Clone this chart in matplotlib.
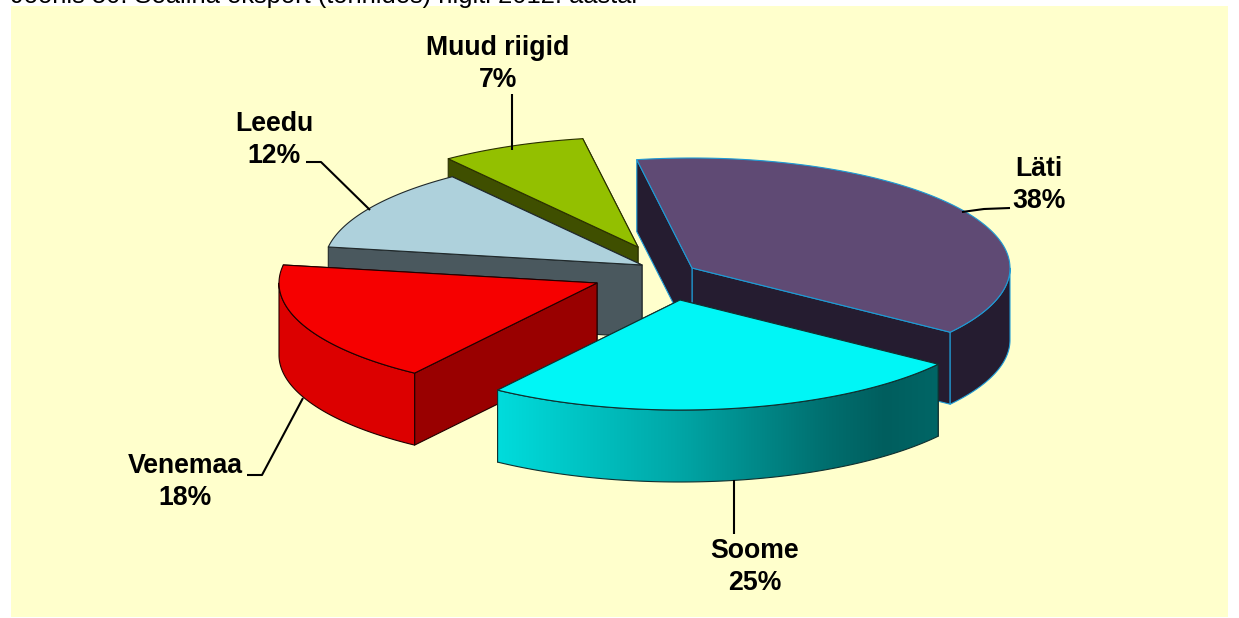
import numpy as np
import matplotlib
matplotlib.use("Agg")
import matplotlib.pyplot as plt
from matplotlib.patches import Polygon, Rectangle
from matplotlib.colors import LinearSegmentedColormap

# --- data ---
categories = ["Läti", "Soome", "Venemaa", "Leedu", "Muud riigid"]
shares = [37.7, 24.8, 17.9, 12.2, 7.4]
title_text = "Joonis 50. Sealiha eksport (tonnides) riigiti 2012. aastal"

# --- styling / layout ---
plt.rcParams["font.family"] = ["Liberation Sans", "DejaVu Sans"]
top_cols = ["#5F4A74", "#00F6F6", "#F60000", "#AED1DC", "#93C000"]
side_cols = ["#251C30", "#007070", "#990000", "#4A585E", "#3F4F00"]
arc_cols = ["#251C30", None, "#DC0000", "#4A585E", "#3F4F00"]
edge_cols = ["#1E9BD5", "#10302F", "#200000", "#20282A", "#2A3000"]
apex = [(692, 268), (680, 300), (597, 283), (642, 265), (638, 247)]
RX, RY, DEPTH = 318, 110, 72
START = -10.0
label_pos = [(1039, 185), (755, 567), (185, 482), (274, 140), (498, 64)]
leaders = [
    [(962, 212), (984, 209), (1010, 208)],
    [(734, 480), (734, 534)],
    [(303, 398), (262, 475), (247, 475)],
    [(370, 210), (321, 162), (306, 162)],
    [(512, 150), (512, 94)],
]

fig = plt.figure(figsize=(12.39, 6.18), dpi=100, facecolor="white")
ax = fig.add_axes([0, 0, 1, 1])
ax.axis("off")
ax.add_patch(Rectangle((11, 6), 1217, 611, fc="#FFFFCC", ec="none", zorder=0))
ax.text(11, 3, title_text, fontsize=18.4, color="black", ha="left", va="baseline", zorder=1)

fr = np.cumsum([0] + shares) / sum(shares) * 360 + START


def rim(c, a0, a1, dz=0.0, n=120):
    t = np.radians(np.linspace(a0, a1, n))
    return np.column_stack([c[0] + RX * np.sin(t), c[1] - RY * np.cos(t) + dz])


def radial(c, a):
    p = rim(c, a, a, n=1)[0]
    return [c, tuple(p), (p[0], p[1] + DEPTH), (c[0], c[1] + DEPTH)]


soome_cmap = LinearSegmentedColormap.from_list(
    "soome", [(0, "#00DCDC"), (0.4, "#00A8A8"), (0.75, "#006E6E"), (0.88, "#005E5E"), (1, "#006666")])
order = [4, 3, 2, 0, 1]
z = 2
for i in order:
    c = apex[i]
    a0, a1 = fr[i], fr[i + 1]
    ec = edge_cols[i]
    kw = dict(ec=ec, lw=0.8, joinstyle="round")
    for a in (a1, a0):
        ax.add_patch(Polygon(radial(c, a), fc=side_cols[i], zorder=z, **kw))
        z += 1
    # only the front half of the rim (90..270 degrees) has a visible outer wall
    v0, v1 = max(a0, 90), min(a1, 270)
    if v1 > v0:
        outer = np.vstack([rim(c, v0, v1), rim(c, v1, v0, DEPTH)])
        if arc_cols[i] is None:
            ax.add_patch(Polygon(outer, fc="none", zorder=z + 1, **kw))
            clip = Polygon(outer, fc="none", ec="none", transform=ax.transData)
            ax.add_patch(clip)
            xs = outer[:, 0]
            im = ax.imshow(np.linspace(0, 1, 256)[None, :], cmap=soome_cmap, aspect="auto",
                           extent=(xs.min(), xs.max(), outer[:, 1].max(), outer[:, 1].min()), zorder=z)
            im.set_clip_path(clip)
        else:
            ax.add_patch(Polygon(outer, fc=arc_cols[i], zorder=z, **kw))
    z += 2
    ax.add_patch(Polygon(np.vstack([[c], rim(c, a0, a1)]), fc=top_cols[i], zorder=z, **kw))
    z += 1

for pts in leaders:
    p = np.array(pts)
    ax.plot(p[:, 0], p[:, 1], color="black", lw=1.5, zorder=z, solid_capstyle="butt")

for cat, val, (x, y) in zip(categories, shares, label_pos):
    ax.text(x, y, f"{cat}\n{round(val)}%", ha="center", va="center", fontsize=19.2,
            fontweight="bold", color="black", linespacing=1.28, zorder=z + 1)

ax.set_xlim(0, 1239)
ax.set_ylim(618, 0)
fig.savefig("out.png", dpi=100, facecolor="white")
